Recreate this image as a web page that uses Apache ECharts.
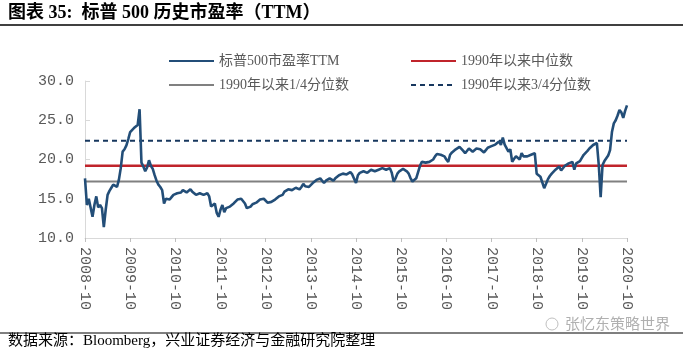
<!DOCTYPE html>
<html>
<head>
<meta charset="utf-8">
<script src="https://cdn.jsdelivr.net/npm/echarts@6/dist/echarts.min.js"></script>
<style>
html,body{margin:0;padding:0;background:#fff;}
#c{width:683px;height:355px;}
</style>
</head>
<body>
<div id="c"></div>
<script>
// ---- data ----
var titleText = '图表 35:  标普 500 历史市盈率（TTM）';
var sourceText = '数据来源：Bloomberg，兴业证券经济与金融研究院整理';
var watermarkText = '张忆东策略世界';
var seriesNames = ['标普500市盈率TTM', '1990年以来中位数', '1990年以来1/4分位数', '1990年以来3/4分位数'];
var startYear = 2008, startMonth = 10, endYear = 2020, endMonth = 10;   // semi-monthly samples
var tickLabels = ['2008-10','2009-10','2010-10','2011-10','2012-10','2013-10','2014-10','2015-10','2016-10','2017-10','2018-10','2019-10','2020-10'];
var yTicks = [10, 15, 20, 25, 30];
var medianPE = 19.2;
var q1PE = 17.2;
var q3PE = 22.4;
var pe = [
  17.6,14.2,15.0,14.8,12.7,14.2,15.3,13.9,14.2,13.8,11.4,13.6,15.5,16.0,16.4,16.8,16.6,16.5,17.4,18.9,21.0,21.3,21.8,
  22.6,23.5,23.3,24.0,24.2,24.4,26.4,19.6,19.1,18.5,19.0,19.9,19.2,18.8,18.0,17.3,16.8,16.5,16.1,14.4,15.0,15.1,14.9,15.2,
  15.5,15.4,15.7,15.6,15.8,16.1,15.9,15.8,16.0,16.2,15.9,15.8,15.5,15.6,15.7,15.5,15.5,15.6,15.7,15.3,14.0,13.8,14.4,13.2,
  12.7,13.6,14.2,13.3,13.8,13.8,14.0,14.2,14.4,14.65,14.9,15.1,15.0,14.9,14.4,13.8,14.0,14.0,14.3,14.4,14.5,14.6,14.9,15.1,
  15.0,14.9,14.5,14.3,14.6,14.7,14.9,15.1,15.3,15.4,15.5,15.9,16.0,16.2,16.35,16.1,15.95,16.4,16.6,16.2,16.5,16.9,16.6,16.4,
  16.5,16.6,17.0,17.2,17.4,17.5,17.6,17.3,17.0,17.3,17.4,17.6,17.4,17.3,17.6,17.8,18.0,18.25,18.2,18.1,18.1,18.3,18.4,18.1,
  17.9,17.0,18.0,18.3,18.4,18.5,18.4,18.3,18.5,18.7,18.6,18.5,18.6,18.7,18.8,18.9,18.8,18.7,18.8,18.9,18.3,17.2,17.6,18.2,
  18.5,18.7,18.8,18.7,18.5,18.2,17.6,17.2,17.3,17.6,18.4,19.2,19.7,19.5,19.6,19.6,19.7,19.5,20.0,20.4,20.7,20.8,20.6,20.5,
  20.4,20.0,19.7,20.6,20.9,21.1,21.3,21.4,21.6,21.4,21.1,20.8,21.0,21.4,21.2,21.0,21.2,21.4,21.3,21.3,21.1,20.9,21.2,21.5,21.6,
  21.7,21.85,21.9,22.0,22.3,21.85,22.8,21.9,22.0,21.0,21.3,19.7,20.1,20.4,20.2,20.0,20.8,20.4,20.2,20.4,20.5,20.6,20.7,20.8,
  18.2,18.1,17.8,18.0,16.35,16.9,17.5,17.9,18.2,18.4,18.7,18.9,19.1,18.6,18.4,19.2,19.4,19.5,19.6,19.7,18.7,19.5,19.7,19.8,
  20.2,20.6,20.8,21.1,21.4,21.6,21.85,21.6,22.1,19.3,15.2,19.3,19.8,20.0,20.5,21.2,23.5,24.6,25.0,25.6,26.3,26.0,25.3,26.2,26.9
];

// ---- category dates (semi-monthly) ----
var dates = [];
(function(){
  var y = startYear, m = startMonth;
  while (y < endYear || (y === endYear && m <= endMonth)) {
    var mm = (m < 10 ? '0' : '') + m;
    dates.push(y + '-' + mm + '-01');
    if (y === endYear && m === endMonth) break;
    dates.push(y + '-' + mm + '-16');
    m++; if (m > 12) { m = 1; y++; }
  }
})();
var peData = dates.map(function(d, i){ return [d, pe[i]]; });
var first = dates[0], last = dates[dates.length - 1];

function isTick(idx, val) {
  return val.slice(8) === '01' && tickLabels.indexOf(val.slice(0, 7)) >= 0;
}

var serifCJK = '"Liberation Serif","Times New Roman","Noto Sans CJK SC",serif';
var chart = echarts.init(document.getElementById('c'), null, {renderer: 'canvas'});
var legendText = {color: '#595959', fontSize: 14, fontFamily: serifCJK};
function lg(name, left, top) {
  return {data: [name], left: left, top: top, itemWidth: 45, itemHeight: 12, itemGap: 6,
          itemStyle: {opacity: 0, borderWidth: 0},
          textStyle: legendText, selectedMode: false, padding: 0};
}
chart.setOption({
  animation: false,
  backgroundColor: '#ffffff',
  grid: {left: 85, right: 56, top: 81, bottom: 117, containLabel: false},
  legend: [
    lg(seriesNames[0], 168, 54),
    lg(seriesNames[1], 410, 54),
    lg(seriesNames[2], 168, 78),
    lg(seriesNames[3], 410, 78)
  ],
  xAxis: {
    type: 'category', data: dates, boundaryGap: false,
    axisLine: {show: true, lineStyle: {color: '#d9d9d9', width: 1}},
    axisTick: {show: true, interval: isTick, length: 4, lineStyle: {color: '#bfbfbf'}},
    axisLabel: {interval: isTick, rotate: -90, margin: 9, color: '#595959', fontSize: 15,
                fontFamily: '"Liberation Mono","DejaVu Sans Mono",monospace',
                formatter: function(v){ return v.slice(0, 7); }},
    splitLine: {show: false}
  },
  yAxis: {
    type: 'value', min: yTicks[0], max: yTicks[yTicks.length - 1], interval: 5,
    axisLine: {show: true, lineStyle: {color: '#d9d9d9', width: 1}},
    axisTick: {show: true, inside: true, length: 5, lineStyle: {color: '#d9d9d9'}},
    axisLabel: {color: '#595959', fontSize: 15, margin: 11,
                fontFamily: '"Liberation Mono","DejaVu Sans Mono",monospace',
                formatter: function(v){ return v.toFixed(1); }},
    splitLine: {show: false}
  },
  series: [
    {name: seriesNames[0], type: 'line', data: peData, symbol: 'none', z: 5,
     lineStyle: {color: '#234e78', width: 2.6}, itemStyle: {color: '#234e78'}},
    {name: seriesNames[1], type: 'line', data: [[first, medianPE], [last, medianPE]], symbol: 'none', z: 3,
     lineStyle: {color: '#c0242b', width: 2.4}, itemStyle: {color: '#c0242b'}},
    {name: seriesNames[2], type: 'line', data: [[first, q1PE], [last, q1PE]], symbol: 'none', z: 3,
     lineStyle: {color: '#808080', width: 2.2}, itemStyle: {color: '#808080'}},
    {name: seriesNames[3], type: 'line', data: [[first, q3PE], [last, q3PE]], symbol: 'none', z: 3,
     lineStyle: {color: '#17375e', width: 2, type: [5, 4]}, itemStyle: {color: '#17375e'}}
  ],
  graphic: [
    {type: 'text', left: 8, top: 4, style: {text: titleText, fill: '#000', fontSize: 18, fontWeight: 'bold', fontFamily: serifCJK}},
    {type: 'line', shape: {x1: 0, y1: 25, x2: 683, y2: 25}, style: {stroke: '#000', lineWidth: 1.5}},
    {type: 'text', left: 565, top: 316, style: {text: watermarkText, fill: '#b0b0b0', fontSize: 15, fontFamily: '"Noto Sans CJK SC",sans-serif'}},
    {type: 'circle', shape: {cx: 552, cy: 324, r: 6}, style: {fill: 'none', stroke: '#c0c0c0', lineWidth: 1}},
    {type: 'line', shape: {x1: 0, y1: 333, x2: 683, y2: 333}, style: {stroke: '#000', lineWidth: 1}},
    {type: 'text', left: 8, top: 334, style: {text: sourceText, fill: '#000', fontSize: 15, fontFamily: serifCJK}}
  ]
});
</script>
</body>
</html>
